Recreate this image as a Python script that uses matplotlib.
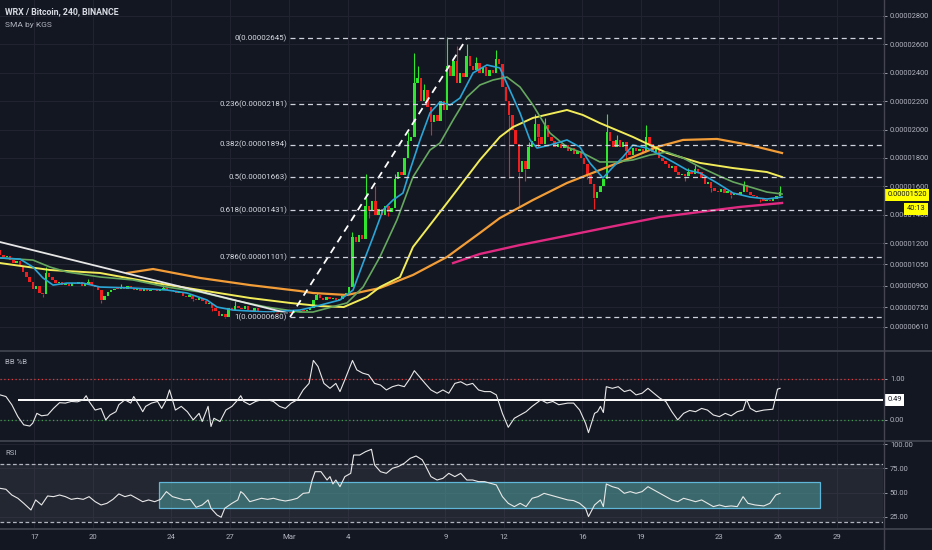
import numpy as np
import matplotlib
matplotlib.use("Agg")
import matplotlib.pyplot as plt
from matplotlib.lines import Line2D
from matplotlib.patches import Rectangle

plt.rcParams['font.family'] = ['Roboto', 'DejaVu Sans']

BG = '#131722'
GRID = '#222531'
TXT = '#b2b5be'
SEP = '#434651'
UP = '#2ee62e'
DOWN = '#f01e1e'

# x positions are days after 17 Feb 2020, prices in satoshi (1e-8 BTC)
bar_start = -1.75
bar_step = 1 / 6          # 240 minute candles
first_open = 1150
closes = [
    1120, 1100, 1110, 1080, 1060, 1075, 1040, 1000, 960, 930, 880, 900, 850, 840, 990, 960, 940,
    920, 930, 905, 915, 900, 920, 910, 925, 900, 915, 930, 905, 890, 870, 800, 830, 855, 870, 880,
    875, 890, 880, 895, 885, 870, 880, 865, 875, 860, 870, 880, 865, 870, 885, 870, 860, 865,
    850, 855, 830, 820, 835, 810, 800, 815, 790, 770, 780, 740, 720, 690, 700, 680, 745, 730,
    760, 745, 735, 755, 730, 720, 740, 725, 715, 725, 710, 705, 715, 700, 710, 705, 715, 705,
    720, 715, 725, 720, 730, 740,
    800, 835, 815, 800, 820, 805, 815, 800, 810, 825, 850, 890,
    1240, 1210, 1260, 1230, 1460, 1430, 1500, 1400, 1440, 1400, 1460, 1420, 1450, 1650, 1700,
    1680, 1800, 1920, 1950, 2330,
    2360, 2200, 2280, 2160, 2050, 2100, 2060, 2200, 2140, 2450, 2380, 2480, 2330, 2400, 2370,
    2520, 2450, 2420, 2470, 2400, 2440, 2380, 2420, 2400, 2500, 2460, 2300, 2200, 2100, 2000,
    1900, 1700, 1780, 1720, 1880, 1920, 2040, 1950, 1900, 2030, 1950, 1920, 1880, 1900, 1870,
    1890, 1850, 1870, 1830, 1850, 1800, 1760, 1680, 1620, 1520, 1560, 1600, 1650,
    1980, 1920, 1880, 1930, 1880, 1910, 1850, 1820, 1870, 1850, 1860, 1840, 1950, 1900, 1840,
    1860, 1800, 1780, 1760, 1730, 1740, 1700, 1680, 1690, 1670, 1700, 1690, 1720,
    1700, 1660, 1620, 1630, 1590, 1570, 1560, 1580, 1550, 1565, 1540, 1555, 1540, 1560, 1610,
    1560, 1540, 1530, 1520, 1510, 1500, 1505, 1495, 1510, 1530, 1560,
]
wick_hi = {14: 1030, 27: 945, 37: 915, 50: 905, 72: 790, 97: 850, 108: 1280, 112: 1690,
           115: 1600, 121: 1690, 125: 1980, 127: 2540, 128: 2450, 130: 2320, 137: 2650, 140: 2590,
           143: 2600, 146: 2510, 152: 2560, 162: 1910, 164: 2110, 167: 2080, 186: 2110,
           189: 1960, 198: 2030, 211: 1730, 213: 1750, 228: 1640, 239: 1600}
wick_lo = {13: 820, 31: 780, 59: 790, 65: 720, 69: 670, 113: 1380, 119: 1390, 132: 1960,
           156: 1660, 159: 1460, 161: 1640, 165: 1880, 180: 1650, 182: 1440, 192: 1800,
           210: 1640, 218: 1560, 224: 1520, 233: 1490}
last_price = 1520
countdown = "40:13"

sma_cyan_days = [-1.76, -0.74, -0.08, 0.43, 0.95, 1.66, 2.48, 3.35, 5.03, 6.77, 7.79, 8.81, 9.33,
                 10.14, 11.88, 13.56, 14.23, 15.61, 16.28, 16.79, 17.3, 17.81, 18.32, 18.83, 19.19,
                 19.7, 20.21, 20.72, 21.23, 21.74, 22.41, 23.12, 23.78, 24.45, 24.81, 25.32, 25.68,
                 26.34, 27.21, 27.87, 28.38, 29.05, 29.56, 30.07, 30.58, 31.3, 31.97, 32.63, 33.35,
                 34.01, 34.88, 35.7, 36.56, 37.43, 38.2]
sma_cyan = [1096, 1088, 1032, 955, 905, 919, 919, 891, 884, 870, 849, 800, 750, 729, 715, 729, 750,
            800, 870, 1060, 1243, 1434, 1504, 1553, 1715, 1927, 2117, 2194, 2173, 2222, 2399, 2455,
            2434, 2229, 2117, 1927, 1870, 1891, 1927, 1877, 1765, 1659, 1736, 1807, 1891, 1870,
            1821, 1772, 1715, 1694, 1624, 1553, 1525, 1511, 1525]
sma_green_days = [-1.76, -0.08, 0.79, 1.66, 3.35, 5.03, 6.77, 8.46, 10.14, 11.88, 13.56, 14.23,
                  15.97, 16.79, 17.65, 18.52, 19.34, 20.21, 20.72, 21.39, 22.1, 22.76, 23.43, 24.14,
                  24.81, 25.47, 26.34, 27.21, 28.02, 28.89, 29.77, 30.58, 31.45, 32.32, 33.14, 34.01,
                  34.88, 35.7, 36.56, 37.43, 38.2]
sma_green = [1096, 1081, 1032, 997, 962, 941, 891, 856, 800, 750, 715, 715, 779, 891, 1103, 1363,
             1666, 1856, 1905, 2067, 2229, 2314, 2349, 2370, 2300, 2173, 1976, 1877, 1835, 1772,
             1772, 1786, 1821, 1842, 1800, 1736, 1680, 1631, 1596, 1560, 1546]
sma_yellow_days = [-1.76, 0.79, 3.35, 5.90, 8.46, 11.01, 13.06, 14.59, 15.8, 16.99, 17.65, 18.68,
                   19.34, 21.08, 22.76, 23.78, 24.45, 25.47, 27.21, 28.02, 28.89, 30.58, 32.32,
                   34.01, 35.7, 37.43, 38.2]
sma_yellow = [1060, 1011, 990, 926, 870, 814, 779, 757, 750, 821, 891, 962, 1173, 1483, 1786, 1948,
              2018, 2082, 2138, 2103, 2046, 1948, 1835, 1765, 1729, 1701, 1666]
sma_orange_days = [4.73, 6.06, 8.46, 11.01, 13.56, 14.23, 15.97, 17.65, 19.34, 21.08, 22.76, 23.78,
                   25.47, 27.21, 28.89, 30.58, 31.81, 33.14, 34.88, 36.56, 38.2]
sma_orange = [990, 1018, 955, 905, 863, 849, 835, 884, 976, 1103, 1272, 1377, 1504, 1624, 1715,
              1807, 1877, 1927, 1934, 1891, 1835]
sma_pink_days = [21.39, 22.76, 24.81, 26.85, 28.89, 31.97, 34.01, 36.05, 38.2]
sma_pink = [1060, 1124, 1187, 1243, 1300, 1384, 1420, 1455, 1483]

fib_ratios = [0, 0.236, 0.382, 0.5, 0.618, 0.786, 1]
fib_prices = [2645, 2181, 1894, 1663, 1431, 1101, 680]
fib_start = 13.06
fib_diag_days = [13.06, 22.1]
fib_diag_prices = [680, 2645]
trend_days = [-1.76, 12.9]
trend_prices = [1208, 708]

price_ticks = [2800, 2600, 2400, 2200, 2000, 1800, 1600, 1400, 1200, 1050, 900, 750, 610]
date_ticks = [0, 3, 7, 10, 13, 16, 21, 24, 28, 31, 35, 38, 41]
date_labels = ['17', '20', '24', '27', 'Mar', '4', '9', '12', '16', '19', '23', '26', '29']

bb_days = [-1.76, -1.46, -1.16, -0.85, -0.55, -0.24, -0.09, 0.12, 0.36, 0.67, 0.97, 1.28, 1.58,
           1.88, 2.19, 2.49, 2.64, 2.79, 3.10, 3.40, 3.64, 3.86, 4.16, 4.31, 4.62, 4.92, 5.07,
           5.38, 5.53, 5.68, 5.98, 6.29, 6.50, 6.74, 6.90, 7.05, 7.20, 7.50, 7.81, 8.11, 8.41,
           8.57, 8.87, 9.02, 9.17, 9.48, 9.78, 10.09, 10.39, 10.54, 10.69, 11.00, 11.30, 11.60,
           11.91, 12.21, 12.52, 12.82, 13.12, 13.43, 13.73, 14.03, 14.25, 14.49, 14.79, 15.10,
           15.40, 15.61, 15.86, 16.25, 16.47, 16.77, 17.07, 17.38, 17.68, 17.98, 18.29, 18.59,
           18.90, 19.20, 19.41, 19.66, 19.96, 20.26, 20.57, 20.87, 21.17, 21.48, 21.78, 22.09,
           22.39, 22.69, 23.00, 23.30, 23.60, 23.91, 24.21, 24.52, 24.82, 25.12, 25.43, 25.88,
           26.19, 26.49, 26.79, 27.25, 27.55, 27.86, 28.16, 28.31, 28.62, 28.77, 28.92, 29.07,
           29.22, 29.53, 29.83, 30.14, 30.44, 30.74, 31.05, 31.35, 31.65, 31.96, 32.26, 32.57,
           32.87, 33.17, 33.48, 33.78, 34.09, 34.39, 34.69, 35.00, 35.30, 35.60, 35.91, 36.21,
           36.39, 36.58, 36.88, 37.27, 37.73, 37.97, 38.10]
bb_pct = [0.61, 0.57, 0.37, 0.08, -0.12, -0.15, -0.08, 0.16, 0.10, 0.12,
          0.28, 0.42, 0.41, 0.45, 0.44, 0.49, 0.59, 0.45, 0.24, 0.28,
          0.00, 0.12, 0.20, 0.37, 0.49, 0.41, 0.57, 0.33, 0.20, 0.33,
          0.41, 0.45, 0.28, 0.49, 0.73, 0.49, 0.24, 0.33, 0.20, 0.00,
          0.16, -0.04, 0.33, -0.16, 0.04, -0.04, 0.24, 0.33, 0.49, 0.59,
          0.45, 0.37, 0.45, 0.49, 0.49, 0.45, 0.33, 0.28, 0.41, 0.49,
          0.73, 0.89, 1.45, 1.30, 0.89, 0.77, 0.89, 0.69, 0.98, 1.45,
          1.22, 1.14, 1.10, 0.89, 0.85, 0.73, 0.81, 0.85, 0.81, 1.02,
          1.20, 1.06, 0.89, 0.73, 0.65, 0.73, 0.65, 0.89, 0.93, 0.85,
          0.89, 0.73, 0.69, 0.69, 0.61, 0.16, -0.18, 0.04, 0.12, 0.20,
          0.33, 0.49, 0.41, 0.45, 0.37, 0.41, 0.41, 0.24, -0.08, -0.31,
          0.16, 0.20, 0.33, 0.18, 0.81, 0.77, 0.81, 0.69, 0.73, 0.61,
          0.65, 0.77, 0.65, 0.53, 0.45, 0.20, 0.00, 0.16, 0.23, 0.20,
          0.28, 0.24, 0.12, 0.08, 0.16, 0.10, 0.20, 0.24, 0.50, 0.28,
          0.20, 0.24, 0.26, 0.75, 0.77]
bb_level = 0.49

rsi_days = [-1.76, -1.46, -1.16, -0.85, -0.55, -0.18, 0.06, 0.36, 0.67, 0.97,
            1.28, 1.58, 1.88, 2.19, 2.49, 2.79, 3.10, 3.40, 3.70, 4.01,
            4.31, 4.62, 4.92, 5.22, 5.53, 5.83, 6.14, 6.44, 6.74, 7.05,
            7.35, 7.65, 7.96, 8.26, 8.57, 8.87, 9.02, 9.33, 9.54, 9.72,
            10.09, 10.39, 10.54, 10.69, 11.00, 11.30, 11.60, 11.91, 12.21, 12.52,
            12.82, 13.12, 13.43, 13.73, 14.03, 14.19, 14.34, 14.64, 14.95, 15.10,
            15.25, 15.40, 15.61, 15.86, 16.16, 16.31, 16.62, 16.92, 17.22, 17.38,
            17.68, 17.98, 18.29, 18.59, 18.90, 19.20, 19.50, 19.81, 19.96, 20.26,
            20.57, 20.87, 21.17, 21.48, 21.78, 22.09, 22.39, 22.69, 23.00, 23.30,
            23.60, 23.91, 24.21, 24.52, 24.82, 25.12, 25.43, 25.73, 26.04, 26.34,
            26.64, 26.95, 27.25, 27.55, 27.86, 28.16, 28.31, 28.62, 28.92, 29.07,
            29.22, 29.53, 29.83, 30.14, 30.44, 30.74, 31.05, 31.35, 31.65, 31.96,
            32.26, 32.57, 32.87, 33.17, 33.48, 33.78, 34.09, 34.39, 34.69, 35.00,
            35.30, 35.60, 35.91, 36.21, 36.46, 36.82, 37.27, 37.58, 37.88, 38.10]
rsi = [54.5, 53.5, 47.6, 44.2, 39.0, 32.1, 42.5, 37.3, 46.6, 45.9,
       47.6, 45.9, 43.1, 44.2, 43.1, 45.9, 40.7, 37.3, 39.0, 43.1,
       48.7, 45.9, 47.6, 44.2, 40.7, 42.5, 40.7, 43.1, 51.1, 45.9,
       44.2, 42.5, 43.1, 34.9, 37.3, 42.5, 33.8, 26.9, 24.6, 33.8,
       39.0, 42.5, 51.1, 48.7, 40.7, 42.5, 44.2, 43.1, 44.2, 42.5,
       41.4, 42.5, 44.2, 49.3, 50.0, 63.1, 71.7, 71.7, 63.1, 66.6,
       59.0, 63.1, 56.2, 66.6, 70.0, 88.9, 88.9, 92.4, 94.8, 78.6,
       71.7, 70.0, 75.2, 77.0, 80.4, 85.5, 87.9, 84.0, 78.6, 66.6,
       63.1, 64.8, 70.0, 66.6, 70.0, 63.1, 63.1, 61.4, 61.4, 59.7,
       58.0, 45.9, 39.0, 35.6, 39.0, 35.6, 44.2, 45.9, 49.3, 47.6,
       45.9, 44.2, 42.5, 41.8, 39.0, 33.8, 25.3, 37.3, 42.5, 35.6,
       59.0, 56.2, 54.5, 49.3, 51.1, 49.3, 51.1, 56.2, 52.8, 49.3,
       45.9, 42.5, 40.7, 44.2, 42.5, 40.7, 42.5, 39.0, 35.6, 37.3,
       35.6, 36.3, 35.6, 45.9, 39.0, 37.3, 36.3, 39.0, 47.6, 49.3]
rsi_upper, rsi_lower = 80, 20
rsi_box_days = (6.36, 40.13)
rsi_box_vals = (33.9, 61.4)

# ---- figure in pixel layout ----
W, H = 932, 550
fig = plt.figure(figsize=(W / 100, H / 100), dpi=100, facecolor=BG)


def px_axes(x0, y0, x1, y1):
    return fig.add_axes([x0 / W, 1 - y1 / H, (x1 - x0) / W, (y1 - y0) / H])


ax = px_axes(0, 0, 883, 350)
bb = px_axes(0, 351, 883, 440)
ra = px_axes(0, 441, 883, 528)

xlim = (-1.763, 43.36)
for a in (ax, bb, ra):
    a.set_facecolor(BG)
    a.set_xlim(*xlim)
    for s in a.spines.values():
        s.set_visible(False)
    a.yaxis.tick_right()
    a.tick_params(axis='y', colors=TXT, labelsize=5.4, length=3, width=0.6, pad=2)
    a.tick_params(axis='x', length=0, labelbottom=False)
    a.set_xticks(date_ticks)
    a.grid(True, color=GRID, lw=0.7)
    a.set_axisbelow(True)

# ---- candles ----
t = bar_start + np.arange(len(closes)) * bar_step
c = np.array(closes, float)
o = np.concatenate([[first_open], c[:-1]])
col = np.where(c >= o, UP, DOWN)
lo = np.minimum(o, c)
hgt = np.maximum(np.abs(c - o), 7)
ax.bar(t, hgt, bottom=lo, width=0.125, color=col, linewidth=0, zorder=2)
for i, h in wick_hi.items():
    ax.vlines(t[i], max(o[i], c[i]), h, color=col[i], lw=0.8, zorder=2)
for i, l in wick_lo.items():
    ax.vlines(t[i], l, min(o[i], c[i]), color=col[i], lw=0.8, zorder=2)

ax.plot(sma_pink_days, sma_pink, color='#e02a82', lw=1.7, zorder=3)
ax.plot(sma_orange_days, sma_orange, color='#f29d38', lw=1.6, zorder=3)
ax.plot(sma_yellow_days, sma_yellow, color='#f2ec5a', lw=1.4, zorder=3)
ax.plot(sma_green_days, sma_green, color='#66a860', lw=1.2, zorder=3)
ax.plot(sma_cyan_days, sma_cyan, color='#2aa5d6', lw=1.2, zorder=3)

# trend line and fib retracement
ax.plot(trend_days, trend_prices, color='#e6e6e6', lw=1.3, zorder=4)
ax.plot(fib_diag_days, fib_diag_prices, color='#ffffff', lw=1.3, ls=(0, (4, 3)), zorder=4)
ax.hlines(fib_prices, fib_start, xlim[1], colors='#cfd2da', lw=0.9, linestyles=(0, (4, 3)), zorder=4)
for r, p in zip(fib_ratios, fib_prices):
    ax.text(fib_start - 0.15, p, f"{r:g}({p * 1e-8:.8f})", ha='right', va='center',
            color='#d8dbe2', fontsize=5.7, zorder=5,
            bbox=dict(boxstyle='square,pad=0.1', fc=BG, ec='none', alpha=0.6))

ax.set_ylim(447.6, 2912.6)
ax.set_yticks(price_ticks)
ax.set_yticklabels([f"{v * 1e-8:.8f}" for v in price_ticks])

ax.annotate(f"{last_price * 1e-8:.8f}", xy=(1, last_price), xycoords=('axes fraction', 'data'),
            xytext=(3, 2), textcoords='offset points', ha='left', va='center', fontsize=5.4,
            color='#131722', annotation_clip=False, zorder=6,
            bbox=dict(boxstyle='square,pad=0.35', fc='#ffff00', ec='none'))
ax.annotate(countdown, xy=(1, last_price), xycoords=('axes fraction', 'data'),
            xytext=(17, -8), textcoords='offset points', ha='left', va='center', fontsize=5.4,
            color='#131722', annotation_clip=False, zorder=6,
            bbox=dict(boxstyle='square,pad=0.35', fc='#ffff00', ec='none'))

# ---- BB %B ----
bb.set_ylim(-0.49, 1.68)
bb.set_yticks([1, 0])
bb.set_yticklabels(['1.00', '0.00'])
bb.axhline(1, color='#e03a3a', lw=0.9, ls=(0, (1, 2)))
bb.axhline(0, color='#3f9a4a', lw=0.9, ls=(0, (1, 2)))
bb.hlines(bb_level, -0.84, xlim[1], color='#ffffff', lw=1.4)
bb.plot(bb_days, bb_pct, color='#e8e8e8', lw=0.8)
bb.annotate(f"{bb_level:.2f}", xy=(1, bb_level), xycoords=('axes fraction', 'data'),
            xytext=(3, 0), textcoords='offset points', ha='left', va='center', fontsize=5.4,
            color='#131722', annotation_clip=False,
            bbox=dict(boxstyle='square,pad=0.35', fc='#ffffff', ec='none'))

# ---- RSI ----
ra.set_ylim(13.5, 103.4)
ra.set_yticks([100, 75, 50, 25])
ra.set_yticklabels(['100.00', '75.00', '50.00', '25.00'])
ra.axhspan(rsi_lower, rsi_upper, color='#787b86', alpha=0.16, lw=0)
ra.axhline(rsi_upper, color='#b2b5be', lw=0.9, ls=(0, (3, 2)))
ra.axhline(rsi_lower, color='#b2b5be', lw=0.9, ls=(0, (3, 2)))
ra.add_patch(Rectangle((rsi_box_days[0], rsi_box_vals[0]), rsi_box_days[1] - rsi_box_days[0],
                       rsi_box_vals[1] - rsi_box_vals[0], facecolor='#4f9f9c', alpha=0.55,
                       edgecolor='none', zorder=2))
ra.add_patch(Rectangle((rsi_box_days[0], rsi_box_vals[0]), rsi_box_days[1] - rsi_box_days[0],
                       rsi_box_vals[1] - rsi_box_vals[0], facecolor='none',
                       edgecolor='#5fb6d8', lw=0.9, zorder=2))
ra.plot(rsi_days, rsi, color='#e8e8e8', lw=0.8, zorder=3)
ra.set_xticklabels(date_labels)
ra.tick_params(axis='x', labelbottom=True, colors=TXT, labelsize=5.6, pad=4)

# ---- texts and separators ----
fig.text(5 / W, 1 - 12 / H, "WRX / Bitcoin, 240, BINANCE", color='#d8dbe2', fontsize=6.3,
         weight='bold', va='center')
fig.text(5 / W, 1 - 25 / H, "SMA by KGS", color=TXT, fontsize=6.0, va='center')
fig.text(5 / W, 1 - 362 / H, "BB %B", color=TXT, fontsize=5.6, va='center')
fig.text(5 / W, 1 - 453 / H, "RSI", color=TXT, fontsize=5.6, va='center')

for yy in (350.5, 440.5, 528.5):
    fig.add_artist(Line2D([0, 1], [1 - yy / H] * 2, color=SEP, lw=1.2))
fig.add_artist(Line2D([883.5 / W] * 2, [0, 1], color=SEP, lw=1.0))

fig.savefig("out.png", dpi=100, facecolor=BG)
